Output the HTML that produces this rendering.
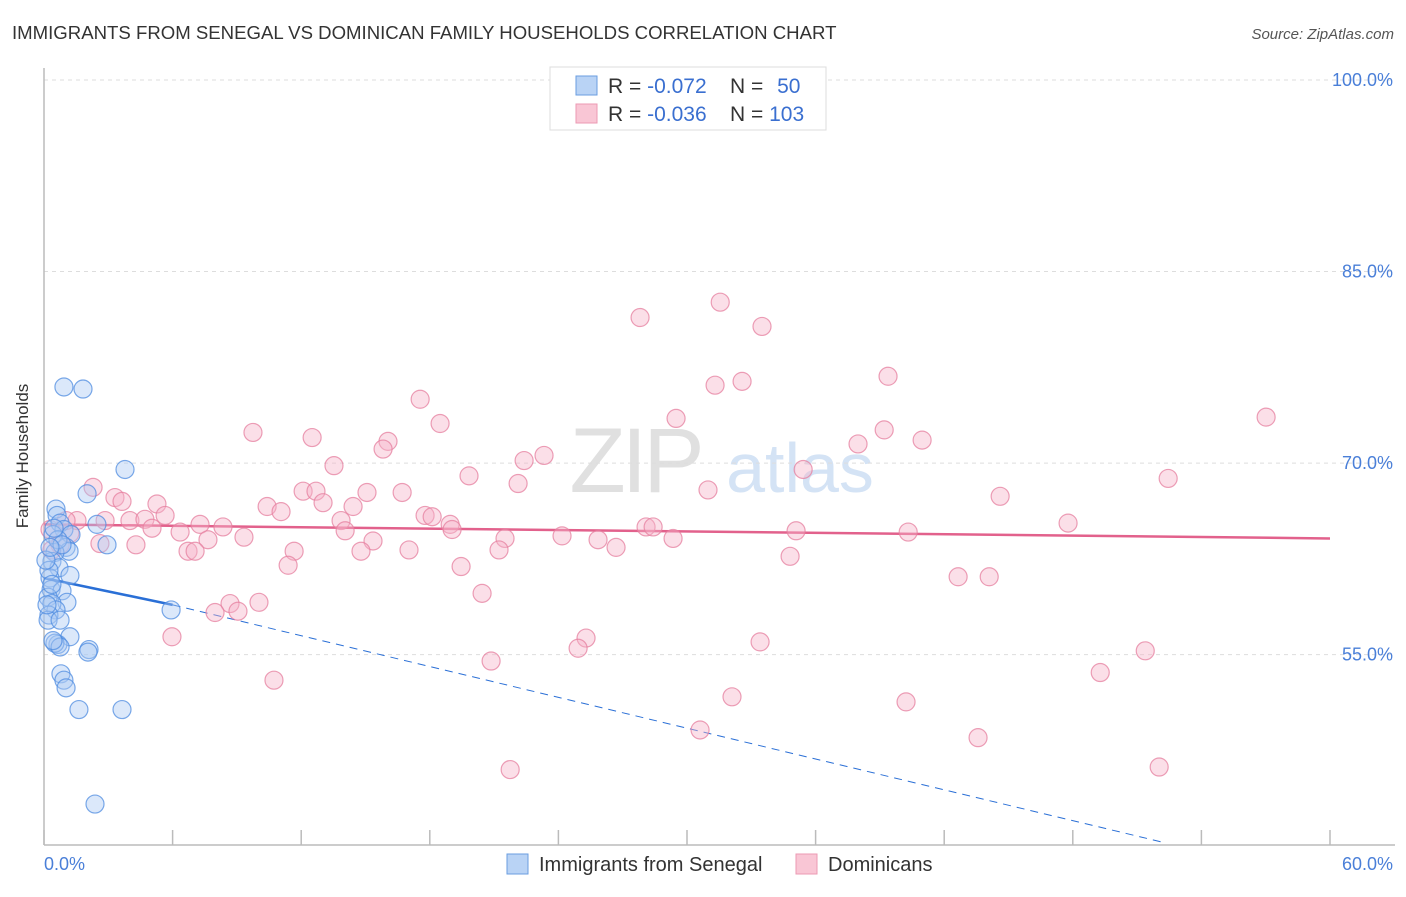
<!DOCTYPE html>
<html><head><meta charset="utf-8"><style>
body{margin:0;background:#fff;font-family:"Liberation Sans",sans-serif;}
svg text{font-family:"Liberation Sans",sans-serif;}
</style></head><body>
<svg id="chart" width="1406" height="892" xmlns="http://www.w3.org/2000/svg">
<text x="12" y="39" font-size="18.6" fill="#333">IMMIGRANTS FROM SENEGAL VS DOMINICAN FAMILY HOUSEHOLDS CORRELATION CHART</text>
<text x="1394" y="39" font-size="15" fill="#555" font-style="italic" text-anchor="end">Source: ZipAtlas.com</text>
<g>
<text x="635" y="492" font-size="92" fill="#e0e0e0" font-family="Liberation Serif" text-anchor="middle" letter-spacing="-4">ZIP</text>
<text x="800" y="492" font-size="70" fill="#d4e3f5" text-anchor="middle">atlas</text>
</g>
<g id="grid"></g>
<g id="axes"></g>
<g id="trends"></g>
<g id="points"></g>
<text x="28" y="456" font-size="17" fill="#333" text-anchor="middle" transform="rotate(-90 28 456)">Family Households</text>
<g>
<rect x="550" y="67" width="276" height="63" fill="#fff" stroke="#ddd"/>
<rect x="576" y="76" width="21" height="19" fill="#b9d3f5" stroke="#6a9ee0"/>
<rect x="576" y="104" width="21" height="19" fill="#f9c6d5" stroke="#ec9ab3"/>
<text x="608" y="93" font-size="21" fill="#333">R = <tspan fill="#3a6fd0">-0.072</tspan></text>
<text x="730" y="93" font-size="21" fill="#333">N = <tspan fill="#3a6fd0" dx="8">50</tspan></text>
<text x="608" y="121" font-size="21" fill="#333">R = <tspan fill="#3a6fd0">-0.036</tspan></text>
<text x="730" y="121" font-size="21" fill="#333">N = <tspan fill="#3a6fd0">103</tspan></text>
</g>
<g>
<rect x="507" y="854" width="21" height="20" fill="#b9d3f5" stroke="#6a9ee0"/>
<text x="539" y="871" font-size="20" fill="#333">Immigrants from Senegal</text>
<rect x="796" y="854" width="21" height="20" fill="#f9c6d5" stroke="#ec9ab3"/>
<text x="828" y="871" font-size="20" fill="#333">Dominicans</text>
</g>
</svg>
<script>
const yTicks=[100,85,70,55];
const yTickLabels=["100.0%","85.0%","70.0%","55.0%"];
const xTicks=[0,6,12,18,24,30,36,42,48,54,60];
const xLabels=["0.0%","60.0%"];
const senegalX=[.93,1.82,3.78,2.01,.56,.61,.75,2.47,.93,.42,1.26,2.94,1.03,1.17,.51,.37,.70,1.21,.28,.33,.84,.19,1.07,.37,.56,.23,5.93,1.21,.65,.51,.75,2.10,2.05,.79,.93,1.03,1.63,3.64,2.38,.23,.37,.09,.42,.65,.19,.84,.47,.28,.14,.75];
const senegalY=[75.96,75.8,69.5,67.6,66.4,65.9,65.3,65.2,64.8,64.4,64.4,63.6,63.4,63.1,63.0,62.3,61.8,61.2,61.0,60.1,60.0,59.5,59.1,59.0,58.5,58.1,58.5,56.4,55.8,55.9,55.6,55.4,55.2,53.5,53.0,52.4,50.7,50.7,43.3,61.6,60.5,62.4,56.1,64.0,57.7,63.6,64.9,63.4,58.9,57.7];
const domX=[31.55,27.81,33.5,39.38,31.31,32.57,17.55,57.02,18.48,9.75,12.51,29.49,39.2,40.97,37.98,16.05,15.82,23.33,22.4,35.42,13.53,19.83,52.45,22.12,2.29,30.98,44.61,3.31,3.64,5.27,12.09,12.69,15.07,16.71,13.02,10.41,11.06,14.42,5.65,17.78,18.11,18.95,47.78,1.54,2.85,4.01,4.71,7.28,8.35,13.86,5.04,6.35,28.09,28.42,19.04,14.05,40.32,35.09,9.33,7.65,21.51,24.17,25.85,26.69,29.35,15.35,4.29,2.61,6.72,7.05,11.67,17.03,21.23,14.79,34.81,11.39,19.46,42.65,44.1,8.68,9.05,7.98,10.03,20.44,5.97,25.29,24.92,33.41,51.38,20.86,49.28,10.73,32.1,40.22,30.61,43.58,21.75,52.03,.75,.37,1.21,.28,1.03];
const domY=[82.6,81.4,80.7,76.8,76.1,76.4,75.0,73.6,73.1,72.4,72.0,73.5,72.6,71.8,71.5,71.7,71.1,70.6,70.2,69.5,69.8,69.0,68.8,68.4,68.1,67.9,67.4,67.3,67.0,66.8,67.8,67.8,67.7,67.7,66.9,66.6,66.2,66.6,65.9,65.9,65.8,65.2,65.3,65.5,65.5,65.5,65.6,65.2,65.0,65.5,64.9,64.6,65.0,65.0,64.8,64.7,64.6,64.7,64.2,64.0,64.1,64.3,64.0,63.4,64.1,63.9,63.6,63.7,63.1,63.1,63.1,63.2,63.2,63.1,62.7,62.0,61.9,61.1,61.1,59.0,58.4,58.3,59.1,59.8,56.4,56.3,55.5,56.0,55.3,54.5,53.6,53.0,51.7,51.3,49.1,48.5,46.0,46.2,63.6,63.2,64.5,64.8,65.5];
const senegalTrendX=[0,6,52.35];
const senegalTrendY=[61.0,58.9,40.25];
const domTrendX=[0,60];
const domTrendY=[65.2,64.1];

const NS="http://www.w3.org/2000/svg";
const X0=44,X1=1330,Y100=80,PX_PER_PCT=12.77;
const sx=v=>X0+(X1-X0)*v/60;
const sy=v=>Y100+(100-v)*PX_PER_PCT;
function mk(tag,attrs,parent){const e=document.createElementNS(NS,tag);for(const k in attrs)e.setAttribute(k,attrs[k]);parent.appendChild(e);return e;}
const grid=document.getElementById('grid'),axes=document.getElementById('axes'),trends=document.getElementById('trends'),pts=document.getElementById('points');
yTicks.forEach((t,i)=>{
  const l=mk('line',{x1:X0,x2:1395,y1:sy(t),y2:sy(t),stroke:'#ddd','stroke-dasharray':'4,4'},grid);
  
  
  const tx=mk('text',{x:1393,y:sy(t)+6,'font-size':18,fill:'#4a7fd8','text-anchor':'end'},grid);
  tx.textContent=yTickLabels[i];
  
  
});
const ya=mk('line',{x1:X0,x2:X0,y1:68,y2:845,stroke:'#bbb','stroke-width':1.5},axes);


const xa=mk('line',{x1:X0,x2:1395,y1:845,y2:845,stroke:'#bbb','stroke-width':1.5},axes);


xTicks.forEach(t=>{
  const l=mk('line',{x1:sx(t),x2:sx(t),y1:830,y2:845,stroke:'#bbb','stroke-width':1.5},axes);
  
  
});
const xl0=mk('text',{x:44,y:870,'font-size':18,fill:'#4a7fd8'},axes);xl0.textContent=xLabels[0];


const xl1=mk('text',{x:1393,y:870,'font-size':18,fill:'#4a7fd8','text-anchor':'end'},axes);xl1.textContent=xLabels[1];



function dot(x,y,fill,stroke,name){
  const c=mk('circle',{cx:sx(x),cy:sy(y),r:9,fill:fill,'fill-opacity':0.42,stroke:stroke,'stroke-width':1.2,'stroke-opacity':0.75},pts);
  
  
}
domX.forEach((x,i)=>dot(x,domY[i],'#f5b3c7','#e67f9f','point-dominicans'));
senegalX.forEach((x,i)=>dot(x,senegalY[i],'#a9c9f2','#4f8ce0','point-senegal'));

const ds=mk('line',{x1:sx(senegalTrendX[0]),y1:sy(senegalTrendY[0]),x2:sx(senegalTrendX[1]),y2:sy(senegalTrendY[1]),stroke:'#2a6fd6','stroke-width':2.5},trends);


const dd=mk('line',{x1:sx(senegalTrendX[1]),y1:sy(senegalTrendY[1]),x2:sx(senegalTrendX[2]),y2:sy(senegalTrendY[2]),stroke:'#2a6fd6','stroke-width':1,'stroke-dasharray':'8,6'},trends);


const pt=mk('line',{x1:sx(domTrendX[0]),y1:sy(domTrendY[0]),x2:sx(domTrendX[1]),y2:sy(domTrendY[1]),stroke:'#e2618c','stroke-width':2.5},trends);


</script>
</body></html>
